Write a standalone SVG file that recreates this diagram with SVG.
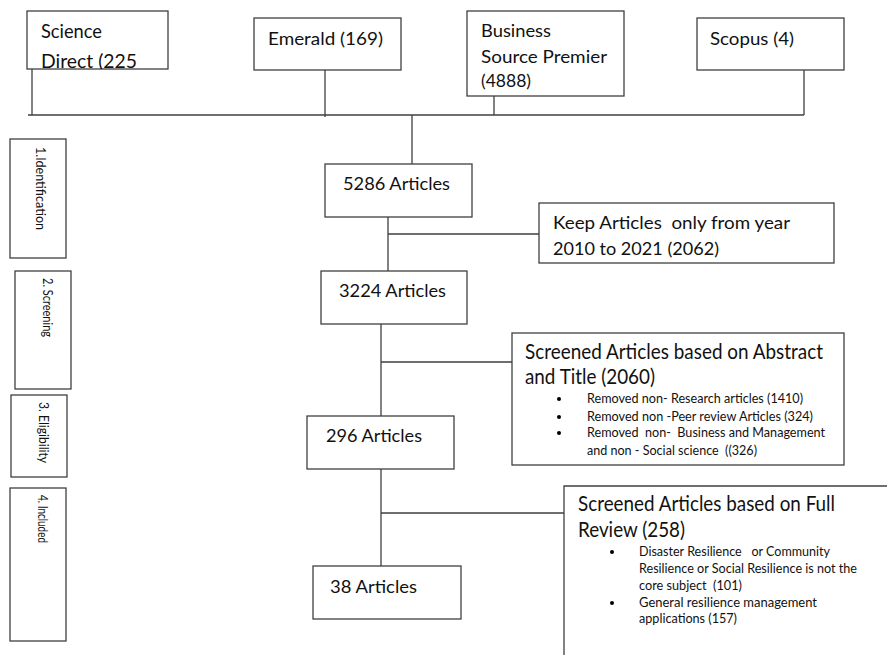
<svg xmlns="http://www.w3.org/2000/svg" width="887" height="655" viewBox="0 0 887 655">
<style>
.box{fill:#fff;stroke:#404040;stroke-width:1.3}
.ln{fill:none;stroke:#404040;stroke-width:1.3}
text{font-family:Lato,"Open Sans","Liberation Sans",sans-serif;fill:#111;white-space:pre}
.t16{font-size:18px}
.t18{font-size:20px}
.t20{font-size:21.5px}
.b{font-size:13.5px}
.s{font-size:14px}
.v{font-size:12.5px}
</style>
<defs>
<clipPath id="clipSD"><rect x="27" y="11" width="141" height="58"/></clipPath>
</defs>
<rect width="887" height="655" fill="#fff"/>
<g id="connectors">
<path class="ln" d="M32 69V115M28 115H804M325 70V117M494 96V115M804 70V115M412 115V164"/>
<path class="ln" d="M388 217V271M388 234H539"/>
<path class="ln" d="M381 324V416M381 362H512"/>
<path class="ln" d="M381 469V566M381 513H564"/>
</g>
<g id="science-direct">
<rect class="box" x="27" y="11" width="141" height="58"/>
<g clip-path="url(#clipSD)">
<text class="t18" x="41" y="38" textLength="61" lengthAdjust="spacingAndGlyphs">Science</text>
<text class="t18" x="41" y="68" textLength="96" lengthAdjust="spacingAndGlyphs">Direct (225</text>
</g>
</g>
<g id="emerald">
<rect class="box" x="254" y="18" width="147" height="52"/>
<text class="t16" x="268" y="45" textLength="115" lengthAdjust="spacingAndGlyphs">Emerald (169)</text>
</g>
<g id="business-source-premier">
<rect class="box" x="467" y="11" width="157" height="85"/>
<text class="t16" x="481" y="37" textLength="70" lengthAdjust="spacingAndGlyphs">Business</text>
<text class="t16" x="481" y="63" textLength="126" lengthAdjust="spacingAndGlyphs">Source Premier</text>
<text class="t16" x="481" y="87" textLength="50" lengthAdjust="spacingAndGlyphs">(4888)</text>
</g>
<g id="scopus">
<rect class="box" x="697" y="18" width="147" height="52"/>
<text class="t16" x="710" y="45" textLength="84" lengthAdjust="spacingAndGlyphs">Scopus (4)</text>
</g>
<g id="stage-identification">
<rect class="box" x="10" y="139" width="56" height="119"/>
<text class="v" transform="translate(36 147) rotate(90)" textLength="83" lengthAdjust="spacingAndGlyphs">1.Identification</text>
</g>
<g id="stage-screening">
<rect class="box" x="15" y="271" width="56" height="118"/>
<text class="v" transform="translate(43 278) rotate(90)" textLength="59" lengthAdjust="spacingAndGlyphs">2. Screening</text>
</g>
<g id="stage-eligibility">
<rect class="box" x="11" y="395" width="56" height="82"/>
<text class="v" transform="translate(39 402) rotate(90)" textLength="61" lengthAdjust="spacingAndGlyphs">3. Eligibility</text>
</g>
<g id="stage-included">
<rect class="box" x="10" y="488" width="56" height="153"/>
<text class="v" transform="translate(38 495) rotate(90)" textLength="48" lengthAdjust="spacingAndGlyphs">4. Included</text>
</g>
<g id="n5286">
<rect class="box" x="325" y="164" width="147" height="53"/>
<text class="t16" x="343" y="190" textLength="107" lengthAdjust="spacingAndGlyphs">5286 Articles</text>
</g>
<g id="keep">
<rect class="box" x="539" y="203" width="295" height="60"/>
<text class="t16" x="553" y="229" textLength="237" lengthAdjust="spacingAndGlyphs">Keep Articles  only from year</text>
<text class="t16" x="553" y="255" textLength="166" lengthAdjust="spacingAndGlyphs">2010 to 2021 (2062)</text>
</g>
<g id="n3224">
<rect class="box" x="321" y="271" width="146" height="53"/>
<text class="t16" x="339" y="297" textLength="107" lengthAdjust="spacingAndGlyphs">3224 Articles</text>
</g>
<g id="abstract">
<rect class="box" x="512" y="333" width="332" height="132"/>
<text class="t20" x="525" y="359" textLength="298" lengthAdjust="spacingAndGlyphs">Screened Articles based on Abstract</text>
<text class="t20" x="525" y="384" textLength="130" lengthAdjust="spacingAndGlyphs">and Title (2060)</text>
<circle cx="559" cy="399" r="2"/>
<circle cx="559" cy="417" r="2"/>
<circle cx="559" cy="433" r="2"/>
<text class="b" x="587" y="403" textLength="216" lengthAdjust="spacingAndGlyphs">Removed non- Research articles (1410)</text>
<text class="b" x="587" y="421" textLength="226" lengthAdjust="spacingAndGlyphs">Removed non -Peer review Articles (324)</text>
<text class="b" x="587" y="437" textLength="238" lengthAdjust="spacingAndGlyphs">Removed  non-  Business and Management</text>
<text class="b" x="587" y="455" textLength="170" lengthAdjust="spacingAndGlyphs">and non - Social science  ((326)</text>
</g>
<g id="n296">
<rect class="box" x="307" y="416" width="147" height="53"/>
<text class="t16" x="326" y="442" textLength="96" lengthAdjust="spacingAndGlyphs">296 Articles</text>
</g>
<g id="fullreview">
<rect x="564" y="486" width="323" height="169" fill="#fff"/>
<path class="ln" d="M887 486H564V655"/>
<text class="t20" x="578" y="511" textLength="257" lengthAdjust="spacingAndGlyphs">Screened Articles based on Full</text>
<text class="t20" x="578" y="537" textLength="107" lengthAdjust="spacingAndGlyphs">Review (258)</text>
<circle cx="612" cy="552" r="2"/>
<circle cx="612" cy="603" r="2"/>
<text class="s" x="639" y="556" textLength="191" lengthAdjust="spacingAndGlyphs">Disaster Resilience   or Community</text>
<text class="s" x="639" y="573" textLength="218" lengthAdjust="spacingAndGlyphs">Resilience or Social Resilience is not the</text>
<text class="s" x="639" y="590" textLength="103" lengthAdjust="spacingAndGlyphs">core subject  (101)</text>
<text class="s" x="639" y="607" textLength="178" lengthAdjust="spacingAndGlyphs">General resilience management</text>
<text class="s" x="639" y="623" textLength="98" lengthAdjust="spacingAndGlyphs">applications (157)</text>
</g>
<g id="n38">
<rect class="box" x="313" y="566" width="148" height="53"/>
<text class="t16" x="330" y="593" textLength="87" lengthAdjust="spacingAndGlyphs">38 Articles</text>
</g>
</svg>
